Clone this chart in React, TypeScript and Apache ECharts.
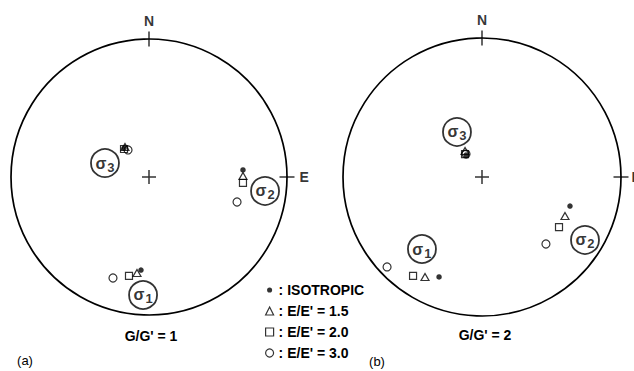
import React, { useEffect, useRef } from 'react';
import * as echarts from 'echarts';

// ---------- data ----------
const seriesNames = ['ISOTROPIC', "E/E' = 1.5", "E/E' = 2.0", "E/E' = 3.0"];
const panelTitles = ["G/G' = 1", "G/G' = 2"];
const panelTags = ['(a)', '(b)'];
const directionLabels = ['N', 'E'];
const sigmaIndices = [1, 2, 3];

// normalised stereonet coordinates (x east, y north, unit circle), panel (a)
const isoA = [[-0.181, 0.21], [0.681, 0.051], [-0.058, -0.674]];
const e15A = [[-0.174, 0.217], [0.681, 0.007], [-0.087, -0.696]];
const e20A = [[-0.181, 0.203], [0.681, -0.043], [-0.145, -0.717]];
const e30A = [[-0.152, 0.196], [0.638, -0.181], [-0.261, -0.732]];
const sigmaPosA = [[-0.043, -0.855], [0.841, -0.101], [-0.319, 0.101]];

// panel (b)
const isoB = [[-0.115, 0.158], [0.633, -0.209], [-0.309, -0.719]];
const e15B = [[-0.122, 0.187], [0.597, -0.281], [-0.41, -0.719]];
const e20B = [[-0.122, 0.165], [0.554, -0.36], [-0.496, -0.712]];
const e30B = [[-0.115, 0.165], [0.46, -0.482], [-0.683, -0.647]];
const sigmaPosB = [[-0.432, -0.518], [0.741, -0.453], [-0.18, 0.324]];

const poleCenter = [0, 0];
const poleNorth = [0, 1];
const poleEast = [1, 0];

// ---------- layout / style ----------
const FONT = '"Liberation Sans", Arial, Helvetica, sans-serif';
const PANELS = [
  { cx: 149, cy: 177, r: 138 },
  { cx: 482, cy: 177, r: 139 },
];
const PLUS = 'path://M6.25,0H7.75V6.25H14V7.75H7.75V14H6.25V7.75H0V6.25H6.25Z';
const DOT = 'path://M0,0L0,0M10,10L10,10M5,1.8A3.2,3.2,0,1,1,5,8.2A3.2,3.2,0,1,1,5,1.8Z';
const HOLLOW = { color: 'rgba(255,255,255,0)', borderColor: '#000', borderWidth: 1.2 };
const MARKERS = [
  { symbol: 'circle', size: 5.5, style: { color: '#000' } },
  { symbol: 'triangle', size: [8, 7], style: HOLLOW },
  { symbol: 'rect', size: 7, style: HOLLOW },
  { symbol: 'circle', size: 8, style: HOLLOW },
];
const LEGEND_ICONS = [DOT, 'triangle', 'rect', 'circle'];

const panelData = [
  [isoA, e15A, e20A, e30A],
  [isoB, e15B, e20B, e30B],
];
const sigmaData = [sigmaPosA, sigmaPosB];

function buildOption() {
  const series: any[] = [];
  PANELS.forEach((p, i) => {
    panelData[i].forEach((d, k) => {
      series.push({
        type: 'scatter',
        name: seriesNames[k],
        xAxisIndex: i,
        yAxisIndex: i,
        data: d,
        symbol: MARKERS[k].symbol,
        symbolSize: MARKERS[k].size,
        itemStyle: MARKERS[k].style,
        z: 3 + k,
        silent: true,
      });
    });
    series.push({
      type: 'scatter',
      xAxisIndex: i,
      yAxisIndex: i,
      symbol: 'circle',
      symbolSize: 28,
      itemStyle: { color: '#fff', borderColor: '#000', borderWidth: 1.8 },
      z: 2,
      silent: true,
      data: sigmaData[i].map((pos, j) => ({ value: pos, n: sigmaIndices[j] })),
      label: {
        show: true,
        position: 'inside',
        color: '#000',
        formatter: (prm: any) => `{s|σ}{n|${prm.data.n}}`,
        rich: {
          s: { fontSize: 16, fontWeight: 'bold', fontFamily: FONT, color: '#000', lineHeight: 18 },
          n: { fontSize: 13, fontWeight: 'bold', fontFamily: FONT, color: '#000', lineHeight: 18, padding: [8, 0, 0, 1] },
        },
      },
    });
    series.push({
      type: 'scatter',
      xAxisIndex: i,
      yAxisIndex: i,
      silent: true,
      itemStyle: { color: '#000' },
      z: 1,
      label: { color: '#000', fontFamily: FONT, fontWeight: 'bold', fontSize: 14 },
      data: [
        { value: poleCenter, symbol: PLUS, symbolSize: 14 },
        {
          value: poleNorth,
          symbol: 'rect',
          symbolSize: [1.5, 15],
          label: { show: true, position: 'top', distance: 4, formatter: directionLabels[0] },
        },
        {
          value: poleEast,
          symbol: 'rect',
          symbolSize: [15, 1.5],
          label: { show: true, position: 'right', distance: i === 0 ? 5 : 3, formatter: directionLabels[1] },
        },
      ],
    });
  });

  const textStyle = { fill: '#000', fontFamily: FONT, fontSize: 13 };
  const graphic: any[] = [];
  const titlePos = [[151, 336], [485, 335]];
  const tagPos = [[25, 360], [377, 361]];
  PANELS.forEach((_, i) => {
    graphic.push({
      type: 'text',
      x: titlePos[i][0],
      y: titlePos[i][1],
      style: { ...textStyle, fontSize: 14, fontWeight: 'bold', text: panelTitles[i], align: 'center', verticalAlign: 'middle' },
    });
    graphic.push({
      type: 'text',
      x: tagPos[i][0],
      y: tagPos[i][1],
      style: { ...textStyle, text: panelTags[i], align: 'center', verticalAlign: 'middle' },
    });
  });

  return {
    animation: false,
    backgroundColor: '#fff',
    grid: PANELS.map((p) => ({
      left: p.cx - p.r,
      top: p.cy - p.r,
      width: 2 * p.r,
      height: 2 * p.r,
      containLabel: false,
    })),
    xAxis: PANELS.map((_, i) => ({ type: 'value', gridIndex: i, min: -1, max: 1, show: false })),
    yAxis: PANELS.map((_, i) => ({ type: 'value', gridIndex: i, min: -1, max: 1, show: false })),
    polar: PANELS.map((p) => ({ center: [p.cx, p.cy], radius: p.r })),
    angleAxis: PANELS.map((_, i) => ({
      polarIndex: i,
      type: 'value',
      min: 0,
      max: 360,
      axisLine: { show: true, lineStyle: { color: '#000', width: 1.7 } },
      axisTick: { show: false },
      axisLabel: { show: false },
      splitLine: { show: false },
      z: 0,
    })),
    radiusAxis: PANELS.map((_, i) => ({
      polarIndex: i,
      type: 'value',
      min: 0,
      max: 1,
      axisLine: { show: false },
      axisTick: { show: false },
      axisLabel: { show: false },
      splitLine: { show: false },
    })),
    legend: {
      orient: 'vertical',
      left: 265,
      top: 283,
      padding: 0,
      itemWidth: 8,
      itemHeight: 8,
      itemGap: 7,
      selectedMode: false,
      formatter: (name: string) => ': ' + name,
      textStyle: { color: '#000', fontFamily: FONT, fontSize: 14, fontWeight: 'bold', lineHeight: 14 },
      data: seriesNames.map((name, k) => ({
        name,
        icon: LEGEND_ICONS[k],
        itemStyle: k === 0 ? { color: '#000', borderWidth: 0 } : { color: '#fff', borderColor: '#000', borderWidth: 1.2 },
      })),
    },
    graphic,
    series,
  };
}

export default function App() {
  const ref = useRef<HTMLDivElement>(null);
  useEffect(() => {
    if (!ref.current) return;
    const chart = echarts.init(ref.current, undefined, { renderer: 'svg' });
    chart.setOption(buildOption() as any);
    return () => chart.dispose();
  }, []);
  return (
    <div
      ref={ref}
      style={{ position: 'fixed', left: 0, top: 0, width: 634, height: 371, background: '#fff' }}
    />
  );
}
